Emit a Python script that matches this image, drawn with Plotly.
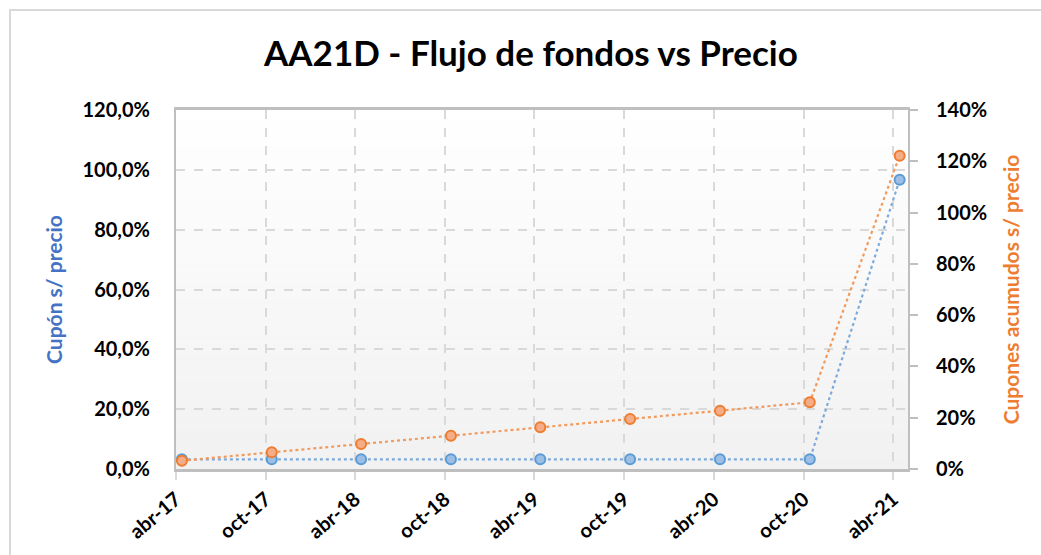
import plotly.graph_objects as go

# Data
fechas = ["2017-04-13", "2017-10-13", "2018-04-13", "2018-10-13", "2019-04-13",
          "2019-10-13", "2020-04-13", "2020-10-13", "2021-04-14"]
cupon_s_precio = [0.0325, 0.0325, 0.0325, 0.0325, 0.0325, 0.0325, 0.0325, 0.0325, 0.967]
cupones_acum = [0.0325, 0.065, 0.0975, 0.130, 0.1625, 0.195, 0.2275, 0.260, 1.222]
tick_fechas = ["2017-04-01", "2017-10-01", "2018-04-01", "2018-10-01", "2019-04-01",
               "2019-10-01", "2020-04-01", "2020-10-01", "2021-04-01"]
tick_labels = ["abr-17", "oct-17", "abr-18", "oct-18", "abr-19", "oct-19", "abr-20", "oct-20", "abr-21"]

W, H = 1041, 555
L, R, T, B = 176, 908, 110, 469

FONT = "Lato"
fig = go.Figure()

fig.add_trace(go.Scatter(
    x=fechas, y=cupon_s_precio, name="Cupón s/ precio", yaxis="y",
    mode="lines+markers",
    line=dict(color="#7eaadb", width=2.2, dash="dot"),
    marker=dict(size=10, color="#9dbfe6", line=dict(color="#5b9bd5", width=2)),
))
fig.add_trace(go.Scatter(
    x=fechas, y=cupones_acum, name="Cupones acumulados", yaxis="y2",
    mode="lines+markers",
    line=dict(color="#f19a5c", width=2.2, dash="dot"),
    marker=dict(size=10, color="#f5ad88", line=dict(color="#ed7d31", width=2)),
))

# gradient background bands
shapes = []
n = 40
for i in range(n):
    t = i / n
    v = int(round(255 - 14 * (t + 0.5 / n)))
    shapes.append(dict(type="rect", xref="paper", yref="paper",
                       x0=0, x1=1, y0=1 - (i + 1) / n, y1=1 - i / n,
                       fillcolor=f"rgb({v},{v},{v})", line=dict(width=0), layer="below"))
# chart outer border
pw, ph = R - L, B - T
shapes.append(dict(type="rect", xref="paper", yref="paper",
                   x0=(10 - L) / pw, x1=(1060 - L) / pw,
                   y0=(B - 570) / ph, y1=(B - 10) / ph,
                   line=dict(color="#d9d9d9", width=2), fillcolor="rgba(0,0,0,0)", layer="below"))

TF = dict(size=20, family=FONT, color="black", weight="bold")

fig.update_layout(
    width=W, height=H,
    margin=dict(l=L, r=W - R, t=T, b=H - B, pad=0, autoexpand=False),
    paper_bgcolor="white", plot_bgcolor="rgba(0,0,0,0)",
    separators=",.",
    showlegend=False,
    shapes=shapes,
    font=dict(family=FONT, color="black"),
    title=dict(text="<b>AA21D - Flujo de fondos vs Precio</b>", x=0.51, xanchor="center",
               y=1 - 54 / H, yanchor="middle", font=dict(size=35, family=FONT, color="black")),
    xaxis=dict(
        type="date", range=["2017-04-01", "2021-05-01"],
        tickvals=tick_fechas, ticktext=tick_labels, tickangle=-40,
        tickfont=TF,
        showgrid=True, gridcolor="#d9d9d9", griddash="dash", gridwidth=2,
        showline=True, linecolor="#bfbfbf", linewidth=3, mirror=True,
        ticks="outside", ticklen=8, tickcolor="#d9d9d9", tickwidth=2,
        zeroline=False,
    ),
    yaxis=dict(
        range=[0, 1.2], dtick=0.2, tickformat=".1%",
        tickfont=TF,
        showgrid=True, gridcolor="#d9d9d9", griddash="dash", gridwidth=2,
        showline=True, linecolor="#bfbfbf", linewidth=2,
        ticks="", ticklabelstandoff=20, zeroline=False,
        title=dict(text="<b>Cupón s/ precio</b>", font=dict(size=21, family=FONT, color="#4472c4"),
                   standoff=14),
    ),
    yaxis2=dict(
        range=[0, 1.4], dtick=0.2, tickformat=".0%", overlaying="y", side="right",
        tickfont=TF,
        showgrid=False, showline=True, linecolor="#bfbfbf", linewidth=2,
        ticks="outside", ticklen=8, tickcolor="#bfbfbf", tickwidth=2,
        ticklabelstandoff=14, zeroline=False,
        title=dict(text="<b>Cupones acumudos s/ precio</b>", font=dict(size=21, family=FONT, color="#ed7d31"),
                   standoff=18),
    ),
)

fig.write_html("out.html", config={"displayModeBar": False},
               post_script="document.body.style.margin='0px';")
